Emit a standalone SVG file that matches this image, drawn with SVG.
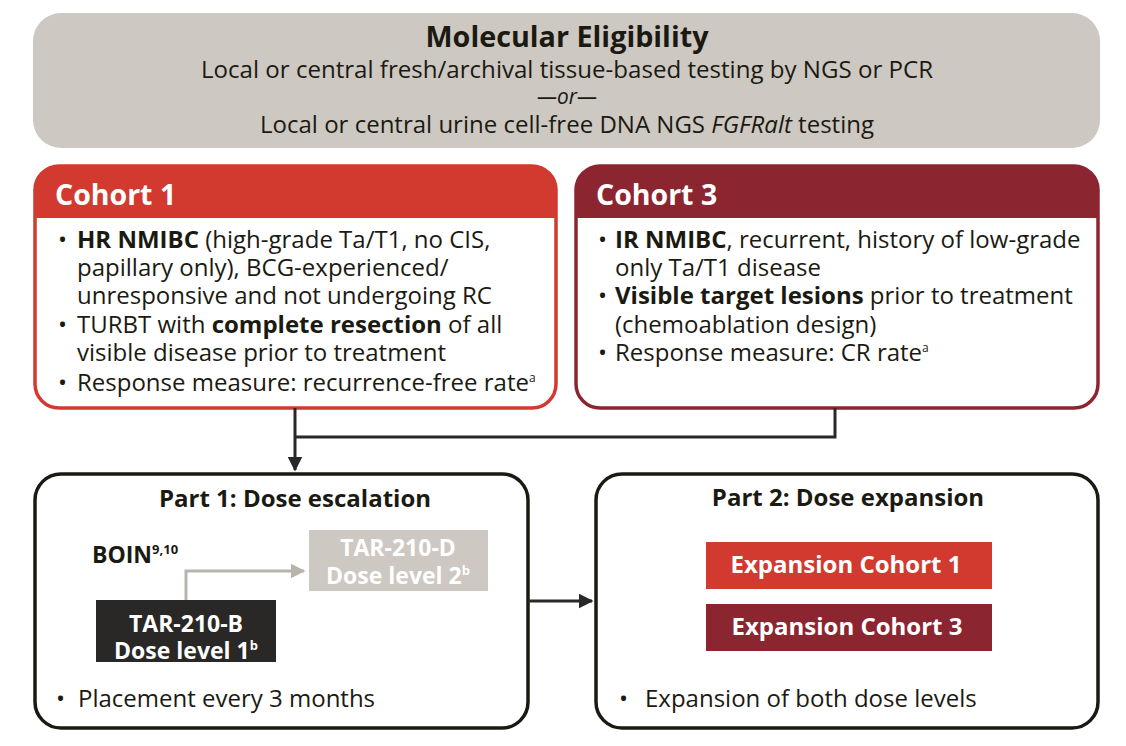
<svg xmlns="http://www.w3.org/2000/svg" width="1126" height="746" viewBox="0 0 1126 746">
<style>
text{font-family:"Open Sans","Noto Sans","Liberation Sans",sans-serif;fill:#1b1a12}
.b{font-weight:700}
.w{fill:#fff}
.body{font-size:24px}
.hdr{font-size:28.5px;font-weight:700;fill:#fff}
.sup{font-size:12px}
.part{fill:#fff;stroke:#1b1a12;stroke-width:3.5}
</style>
<defs>
<marker id="ah" viewBox="0 0 10 10" refX="9" refY="5" markerWidth="5" markerHeight="5" orient="auto" markerUnits="strokeWidth"><path d="M0,0 L10,5 L0,10 Z" fill="#2a2826"/></marker>
<marker id="ahg" viewBox="0 0 10 10" refX="9" refY="5" markerWidth="5" markerHeight="5" orient="auto" markerUnits="strokeWidth"><path d="M0,0 L10,5 L0,10 Z" fill="#b9b3ad"/></marker>
</defs>

<g id="eligibility">
<rect x="33" y="13" width="1067" height="135" rx="28" fill="#cdc8c1"/>
<text x="567" y="47" text-anchor="middle" class="b" font-size="29" textLength="283" lengthAdjust="spacingAndGlyphs">Molecular Eligibility</text>
<text x="567" y="78" text-anchor="middle" font-size="23" textLength="732" lengthAdjust="spacingAndGlyphs">Local or central fresh/archival tissue-based testing by NGS or PCR</text>
<text x="567" y="104" text-anchor="middle" font-size="22" font-style="italic" textLength="60" lengthAdjust="spacingAndGlyphs">—or—</text>
<text x="567" y="133" text-anchor="middle" font-size="23" textLength="614" lengthAdjust="spacingAndGlyphs">Local or central urine cell-free DNA NGS <tspan font-style="italic">FGFRalt</tspan> testing</text>
</g>

<g id="cohort1">
<rect x="35" y="166" width="521" height="242" rx="24" fill="#fff" stroke="#d23a2f" stroke-width="3.5"/>
<path d="M35,218 V190 A24,24 0 0 1 59,166 H532 A24,24 0 0 1 556,190 V218 Z" fill="#d23a2f"/>
<text x="55" y="205" class="hdr">Cohort 1</text>
<g class="body">
<text x="58" y="248">•</text><text x="77" y="248"><tspan class="b">HR NMIBC</tspan> (high-grade Ta/T1, no CIS,</text>
<text x="77" y="276">papillary only), BCG-experienced/</text>
<text x="77" y="304">unresponsive and not undergoing RC</text>
<text x="58" y="333">•</text><text x="77" y="333">TURBT with <tspan class="b">complete resection</tspan> of all</text>
<text x="77" y="361">visible disease prior to treatment</text>
<text x="58" y="391">•</text><text x="77" y="391">Response measure: recurrence-free rate<tspan class="sup" dy="-9">a</tspan></text>
</g>
</g>

<g id="cohort3">
<rect x="576" y="166" width="522" height="242" rx="24" fill="#fff" stroke="#8b2630" stroke-width="3.5"/>
<path d="M576,218 V190 A24,24 0 0 1 600,166 H1074 A24,24 0 0 1 1098,190 V218 Z" fill="#8b2630"/>
<text x="596" y="205" class="hdr">Cohort 3</text>
<g class="body">
<text x="598" y="248">•</text><text x="615" y="248"><tspan class="b">IR NMIBC</tspan>, recurrent, history of low-grade</text>
<text x="615" y="276">only Ta/T1 disease</text>
<text x="598" y="304">•</text><text x="615" y="304"><tspan class="b">Visible target lesions</tspan> prior to treatment</text>
<text x="615" y="333">(chemoablation design)</text>
<text x="598" y="361">•</text><text x="615" y="361">Response measure: CR rate<tspan class="sup" dy="-9">a</tspan></text>
</g>
</g>

<g id="part1">
<rect x="35" y="474" width="493" height="254" rx="26" class="part"/>
<text x="295" y="507" text-anchor="middle" class="b" font-size="24">Part 1: Dose escalation</text>
<text x="92" y="563" class="b" font-size="23">BOIN<tspan font-size="13" dy="-9">9,10</tspan></text>
<g id="tar210d">
<rect x="309" y="530" width="179" height="61" fill="#cdc8c1"/>
<text x="398" y="556" text-anchor="middle" class="b w" font-size="23">TAR-210-D</text>
<text x="398" y="584" text-anchor="middle" class="b w" font-size="23">Dose level 2<tspan font-size="13" dy="-9">b</tspan></text>
</g>
<g id="tar210b">
<rect x="96" y="600" width="180" height="62" fill="#2a2826"/>
<text x="186" y="632" text-anchor="middle" class="b w" font-size="23">TAR-210-B</text>
<text x="186" y="659" text-anchor="middle" class="b w" font-size="23">Dose level 1<tspan font-size="13" dy="-9">b</tspan></text>
</g>
<text x="56" y="707" font-size="24">•</text><text x="78" y="707" font-size="24">Placement every 3 months</text>
</g>

<g id="part2">
<rect x="596" y="474" width="502" height="254" rx="26" class="part"/>
<text x="848" y="506" text-anchor="middle" class="b" font-size="24">Part 2: Dose expansion</text>
<g id="exp1">
<rect x="706" y="542" width="286" height="47" fill="#d23a2f"/>
<text x="846" y="573" text-anchor="middle" class="b w" font-size="24">Expansion Cohort 1</text>
</g>
<g id="exp3">
<rect x="706" y="604" width="286" height="47" fill="#8b2630"/>
<text x="847" y="635" text-anchor="middle" class="b w" font-size="24">Expansion Cohort 3</text>
</g>
<text x="619" y="707" font-size="24">•</text><text x="645" y="707" font-size="24">Expansion of both dose levels</text>
</g>

<g id="connectors" fill="none">
<path d="M295,408 V470" stroke="#2a2826" stroke-width="3" marker-end="url(#ah)"/>
<path d="M295,437 H835 V408" stroke="#2a2826" stroke-width="3"/>
<path d="M528,601 H592" stroke="#2a2826" stroke-width="3" marker-end="url(#ah)"/>
<path d="M186,600 V571 H304" stroke="#b9b3ad" stroke-width="3" marker-end="url(#ahg)"/>
</g>
</svg>
